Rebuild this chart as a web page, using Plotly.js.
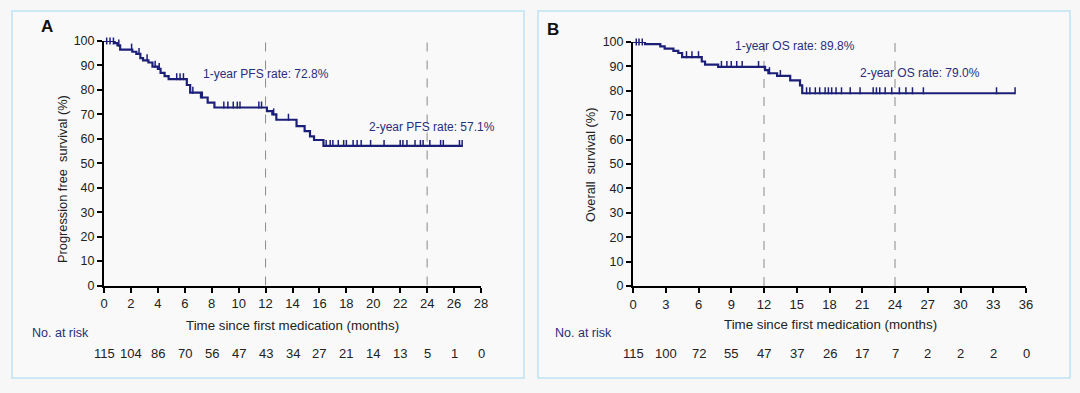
<!DOCTYPE html>
<html>
<head>
<meta charset="utf-8">
<script src="https://cdn.plot.ly/plotly-3.0.1.min.js"></script>
<style>
html,body{margin:0;padding:0;background:#f7f7f7;}
#chart{width:1080px;height:393px;}
</style>
</head>
<body>
<div id="chart"></div>
<script>
// ---------- Data ----------
// Panel A: progression-free survival (step curve)
const pfsTime = [0,0.8,1.0,1.2,2.1,2.4,2.7,2.9,3.3,3.6,4.0,4.2,4.5,4.8,6.15,6.4,7.2,7.7,8.2,12.1,12.5,12.8,14.3,14.9,15.3,15.6,16.3,26.6];
const pfsSurv = [100,99.1,98.2,96.5,95.6,94.7,93.0,92.1,91.2,89.5,88.6,87.0,85.6,84.4,82.0,78.9,76.9,74.8,72.8,71.3,70.0,67.8,65.2,63.1,61.0,59.5,57.1,57.1];
const pfsCensor = [0.2,0.45,0.7,1.1,2.05,2.6,3.2,3.8,4.1,5.4,5.65,5.9,6.6,7.3,8.9,9.2,9.6,9.9,10.1,11.5,11.7,12.6,13.7,16.5,16.8,17.0,17.4,17.8,18.0,18.5,18.8,19.1,19.8,20.8,22.0,22.2,22.5,23.1,23.5,23.7,24.2,25.0,25.2,26.4,26.6];
const riskTimeA = [0,2,4,6,8,10,12,14,16,18,20,22,24,26,28];
const riskA = [115,104,86,70,56,47,43,34,27,21,14,13,5,1,0];

// Panel B: overall survival (step curve)
const osTime = [0,1.1,2.5,2.9,3.7,4.15,4.5,6.3,6.6,7.8,12.1,12.4,13.2,14.4,15.3,15.5,35.0];
const osSurv = [100,99.1,98.2,97.3,96.4,95.5,93.8,92.0,90.7,89.8,88.5,87.2,86.1,84.3,82.2,79.0,79.0];
const osCensor = [0.3,0.55,0.85,4.9,5.4,6.0,8.1,8.6,9.0,9.5,10.0,11.5,12.5,13.5,15.9,16.2,16.7,17.1,17.6,17.9,18.2,18.6,19.1,19.9,20.8,22.0,22.3,22.6,23.1,23.7,24.4,25.0,25.6,26.6,33.3,35.0];
const riskTimeB = [0,3,6,9,12,15,18,21,24,27,30,33,36];
const riskB = [115,100,72,55,47,37,26,17,7,2,2,2,0];

const milestoneMonths = [12,24];
const labelsA = ["1-year PFS rate: 72.8%","2-year PFS rate: 57.1%"];
const labelsB = ["1-year OS rate: 89.8%","2-year OS rate: 79.0%"];

// ---------- Helpers ----------
const W = 1080, H = 393;
const px = x => x / W;
const py = y => (H - y) / H;
function stepAt(ts, ss, t){ let v = ss[0]; for(let i=0;i<ts.length;i++){ if(ts[i] <= t) v = ss[i]; } return v; }

const NAVY = '#1c1f78';
const FONT = 'Liberation Sans, Arial, Helvetica, sans-serif';
const TXT = '#222';
const LBL = '#2a2d7e';

function curve(ts, ss, xa, ya){
  return {x: ts, y: ss, xaxis: xa, yaxis: ya, type:'scatter', mode:'lines',
    line:{shape:'hv', color:NAVY, width:2.2}, cliponaxis:false, hoverinfo:'skip', showlegend:false};
}
function censor(cs, ts, ss, xa, ya){
  return {x: cs, y: cs.map(t => Math.min(stepAt(ts, ss, t) + 1.0, 100)), xaxis: xa, yaxis: ya, type:'scatter', mode:'markers',
    marker:{symbol:'line-ns', size:5, line:{color:NAVY, width:1.5}}, cliponaxis:false, hoverinfo:'skip', showlegend:false};
}

const traces = [
  curve(pfsTime, pfsSurv, 'x', 'y'),
  censor(pfsCensor, pfsTime, pfsSurv, 'x', 'y'),
  curve(osTime, osSurv, 'x2', 'y2'),
  censor(osCensor, osTime, osSurv, 'x2', 'y2')
];

function xax(domain, range, dtick, anchor){
  return {domain, range, dtick, tick0:0, anchor, showgrid:false, zeroline:false, showline:true,
    linecolor:'#000', linewidth:2, ticks:'outside', ticklen:5, tickwidth:2, tickcolor:'#000',
    tickfont:{family:FONT, size:13, color:TXT}, fixedrange:true};
}
function yax(domain, anchor){
  return {domain, range:[0,100], dtick:10, tick0:0, anchor, showgrid:false, zeroline:false, showline:true,
    linecolor:'#000', linewidth:2, ticks:'outside', ticklen:5, tickwidth:2, tickcolor:'#000',
    tickfont:{family:FONT, size:12.5, color:TXT}, fixedrange:true};
}

const shapes = [
  {type:'rect', xref:'paper', yref:'paper', x0:px(12), x1:px(524), y0:py(378), y1:py(11),
   line:{color:'#bfe3f3', width:1.5}, fillcolor:'#f9f9f9', layer:'below'},
  {type:'rect', xref:'paper', yref:'paper', x0:px(538), x1:px(1070), y0:py(378), y1:py(11),
   line:{color:'#bfe3f3', width:1.5}, fillcolor:'#f9f9f9', layer:'below'}
];
milestoneMonths.forEach(m => {
  shapes.push({type:'line', xref:'x', yref:'y', x0:m, x1:m, y0:0, y1:100, line:{color:'#8a8a8a', width:1, dash:'dash'}, layer:'below'});
  shapes.push({type:'line', xref:'x2', yref:'y2', x0:m, x1:m, y0:0, y1:100, line:{color:'#8a8a8a', width:1, dash:'dash'}, layer:'below'});
});

const ann = [];
function txt(text, x, y, opts){
  ann.push(Object.assign({text, x:px(x), y:py(y), xref:'paper', yref:'paper', showarrow:false,
    xanchor:'center', yanchor:'middle', font:{family:FONT, size:13, color:TXT}}, opts||{}));
}
// panel letters
txt('<b>A</b>', 47, 26, {font:{family:FONT, size:17, color:'#111'}});
txt('<b>B</b>', 553, 29, {font:{family:FONT, size:17, color:'#111'}});
// y titles
txt('Progression free  survival (%)', 62, 179, {textangle:-90, font:{family:FONT, size:12.8, color:TXT}});
txt('Overall  survival (%)', 590, 165, {textangle:-90, font:{family:FONT, size:12.8, color:TXT}});
// x titles
txt('Time since first medication (months)', 292.5, 325, {font:{family:FONT, size:13.3, color:TXT}});
txt('Time since first medication (months)', 830, 324, {font:{family:FONT, size:13.3, color:TXT}});
// milestone labels
txt(labelsA[0], 266, 74, {font:{family:FONT, size:12, color:LBL}});
txt(labelsA[1], 432, 127, {font:{family:FONT, size:12, color:LBL}});
txt(labelsB[0], 795, 46, {font:{family:FONT, size:12, color:LBL}});
txt(labelsB[1], 920, 73, {font:{family:FONT, size:12, color:LBL}});
// No. at risk
txt('No. at risk', 30, 333, {xanchor:'left', font:{family:FONT, size:12.5, color:LBL}});
txt('No. at risk', 553, 333, {xanchor:'left', font:{family:FONT, size:12.5, color:LBL}});
riskTimeA.forEach((t,i) => ann.push({text:String(riskA[i]), x:t, xref:'x', y:py(353), yref:'paper', showarrow:false,
  xanchor:'center', yanchor:'middle', font:{family:FONT, size:13, color:TXT}}));
riskTimeB.forEach((t,i) => ann.push({text:String(riskB[i]), x:t, xref:'x2', y:py(353), yref:'paper', showarrow:false,
  xanchor:'center', yanchor:'middle', font:{family:FONT, size:13, color:TXT}}));

const layout = {
  width:W, height:H, margin:{l:0,r:0,t:0,b:0},
  paper_bgcolor:'#f7f7f7', plot_bgcolor:'rgba(0,0,0,0)',
  showlegend:false,
  xaxis: xax([px(104), px(481)], [0,28], 2, 'y'),
  yaxis: yax([py(285.5), py(41)], 'x'),
  xaxis2: xax([px(633), px(1026)], [0,36], 3, 'y2'),
  yaxis2: yax([py(286), py(42)], 'x2'),
  shapes, annotations: ann
};

Plotly.newPlot('chart', traces, layout, {displayModeBar:false, staticPlot:true});
</script>
</body>
</html>
